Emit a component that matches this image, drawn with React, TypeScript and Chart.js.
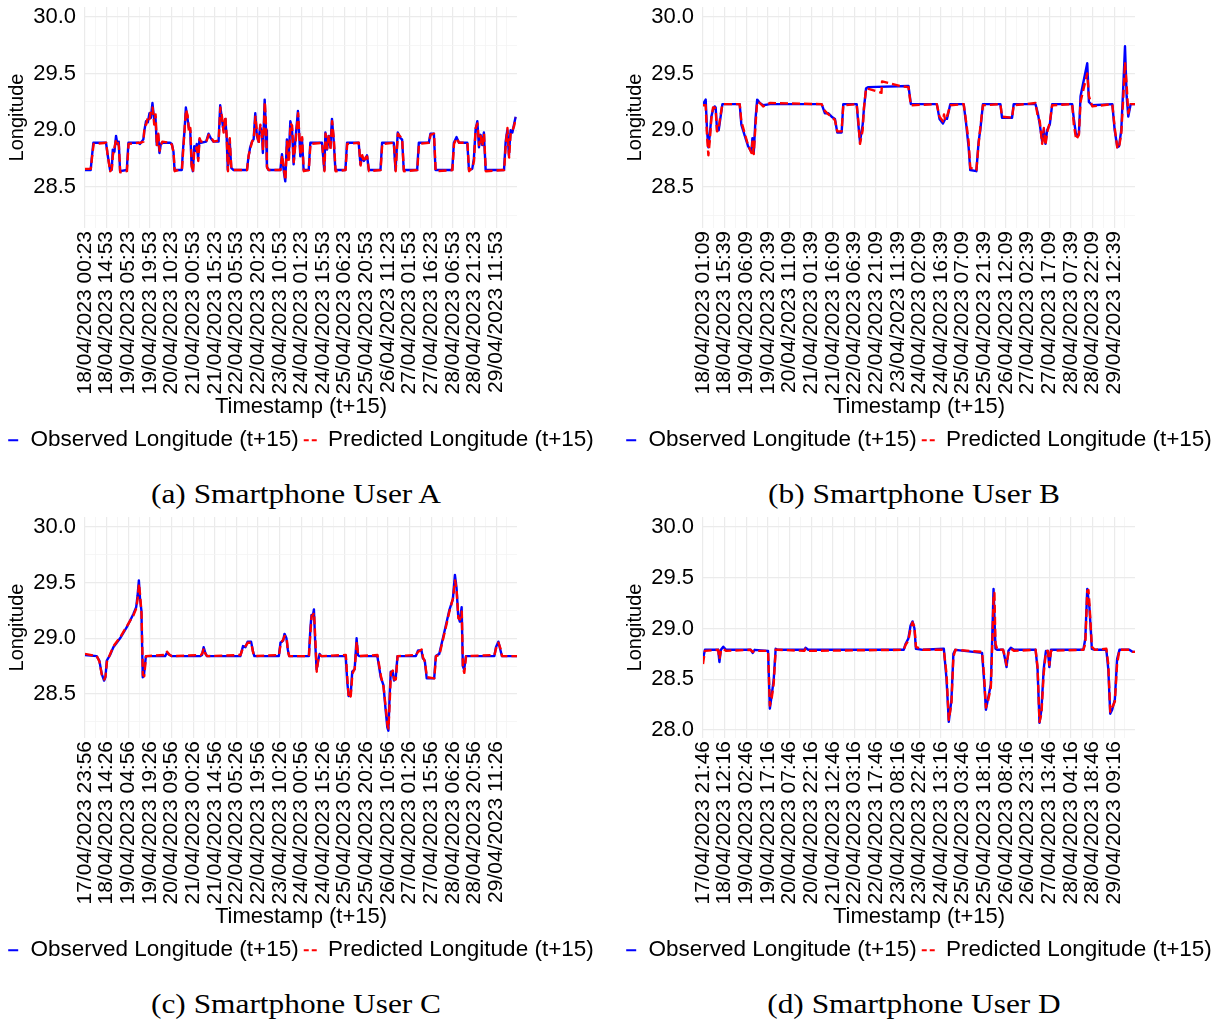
import React, { useEffect, useRef } from 'react';
import { Chart, registerables } from 'chart.js';

Chart.register(...registerables);
Chart.defaults.font.family = "'Liberation Sans', Arial, Helvetica, sans-serif";

type Pt = [number, number];

// x values: hours after the first labelled timestamp of each panel
const X_MAX = 289.5;
const TICK_STEP = 14.5;

const labelsA = ["18/04/2023 00:23","18/04/2023 14:53","19/04/2023 05:23","19/04/2023 19:53","20/04/2023 10:23","21/04/2023 00:53","21/04/2023 15:23","22/04/2023 05:53","22/04/2023 20:23","23/04/2023 10:53","24/04/2023 01:23","24/04/2023 15:53","25/04/2023 06:23","25/04/2023 20:53","26/04/2023 11:23","27/04/2023 01:53","27/04/2023 16:23","28/04/2023 06:53","28/04/2023 21:23","29/04/2023 11:53"];
const labelsB = ["18/04/2023 01:09","18/04/2023 15:39","19/04/2023 06:09","19/04/2023 20:39","20/04/2023 11:09","21/04/2023 01:39","21/04/2023 16:09","22/04/2023 06:39","22/04/2023 21:09","23/04/2023 11:39","24/04/2023 02:09","24/04/2023 16:39","25/04/2023 07:09","25/04/2023 21:39","26/04/2023 12:09","27/04/2023 02:39","27/04/2023 17:09","28/04/2023 07:39","28/04/2023 22:09","29/04/2023 12:39"];
const labelsC = ["17/04/2023 23:56","18/04/2023 14:26","19/04/2023 04:56","19/04/2023 19:26","20/04/2023 09:56","21/04/2023 00:26","21/04/2023 14:56","22/04/2023 05:26","22/04/2023 19:56","23/04/2023 10:26","24/04/2023 00:56","24/04/2023 15:26","25/04/2023 05:56","25/04/2023 20:26","26/04/2023 10:56","27/04/2023 01:26","27/04/2023 15:56","28/04/2023 06:26","28/04/2023 20:56","29/04/2023 11:26"];
const labelsD = ["17/04/2023 21:46","18/04/2023 12:16","19/04/2023 02:46","19/04/2023 17:16","20/04/2023 07:46","20/04/2023 22:16","21/04/2023 12:46","22/04/2023 03:16","22/04/2023 17:46","23/04/2023 08:16","23/04/2023 22:46","24/04/2023 13:16","25/04/2023 03:46","25/04/2023 18:16","26/04/2023 08:46","26/04/2023 23:16","27/04/2023 13:46","28/04/2023 04:16","28/04/2023 18:46","29/04/2023 09:16"];

const yMajor = [28.0, 28.5, 29.0, 29.5, 30.0];
const yMinor = [28.25, 28.75, 29.25, 29.75];

const observedA: Pt[] = [[0,28.65],[3.8,28.65],[4.5,28.75],[5.6,28.89],[14.1,28.89],[15.0,28.8],[16.8,28.65],[17.9,28.65],[18.6,28.83],[19.7,28.81],[20.8,28.95],[21.7,28.88],[22.6,28.9],[23.5,28.64],[28.0,28.65],[29.1,28.89],[35.8,28.89],[36.9,28.88],[39.1,28.92],[39.8,29.0],[40.9,29.08],[42.1,29.07],[43.2,29.15],[44.1,29.11],[45.2,29.24],[46.3,29.1],[47.2,29.12],[48.1,28.87],[49.0,28.96],[49.9,28.8],[50.8,28.88],[51.7,28.89],[57.0,28.89],[58.2,28.88],[59.3,28.81],[60.0,28.65],[64.9,28.65],[65.5,28.8],[66.7,29.0],[67.6,29.2],[68.7,29.1],[69.6,29.02],[70.5,29.0],[71.4,28.7],[72.3,28.64],[73.2,28.86],[74.0,28.82],[74.9,28.88],[75.8,28.75],[76.7,28.92],[77.6,28.89],[81.2,28.9],[82.8,28.97],[84.3,28.93],[86.1,28.9],[89.5,28.9],[90.6,29.22],[91.7,29.1],[92.8,29.0],[94.0,29.1],[94.9,28.95],[95.7,28.65],[96.9,28.92],[98.0,28.67],[99.6,28.65],[108.5,28.65],[109.6,28.77],[110.7,28.85],[111.9,28.9],[113.0,28.92],[114.1,29.15],[115.2,28.95],[116.3,28.9],[117.4,29.03],[118.6,28.98],[119.2,28.8],[120.4,29.27],[121.3,29.0],[121.9,28.68],[123.0,28.65],[130.9,28.65],[132.0,28.79],[133.1,28.65],[134.2,28.55],[135.3,28.92],[136.5,28.75],[137.6,29.08],[138.7,29.02],[139.8,28.7],[140.9,28.9],[142.7,29.17],[144.3,28.77],[145.4,28.93],[146.5,28.65],[149.9,28.65],[151.0,28.89],[158.8,28.89],[160.4,28.65],[161.1,28.98],[162.2,28.83],[163.3,28.95],[164.4,28.85],[165.5,29.1],[166.7,28.9],[167.8,28.65],[174.5,28.65],[175.6,28.89],[183.4,28.89],[184.6,28.7],[185.7,28.77],[186.8,28.73],[187.9,28.75],[189.0,28.78],[190.2,28.65],[198.0,28.65],[199.1,28.89],[206.9,28.89],[208.1,28.65],[209.6,28.98],[211.4,28.93],[212.5,28.92],[213.6,28.65],[222.6,28.65],[223.7,28.89],[230.4,28.89],[231.5,28.97],[233.8,28.97],[234.9,28.65],[246.1,28.65],[247.2,28.89],[249.0,28.94],[250.6,28.89],[256.2,28.89],[257.3,28.65],[259.5,28.66],[260.6,28.75],[261.7,29.0],[262.9,29.08],[264.0,28.85],[265.1,28.96],[266.2,28.87],[267.3,28.98],[268.5,28.65],[280.8,28.65],[281.9,28.9],[283.0,29.0],[284.1,28.78],[285.2,29.0],[286.4,28.98],[287.5,29.05],[288.6,29.12]];
const predictedA: Pt[] = [[0,28.66],[3.9,28.66],[4.7,28.76],[5.8,28.88],[14.2,28.89],[15.2,28.78],[16.9,28.64],[18.0,28.66],[18.7,28.78],[19.8,28.85],[20.9,28.92],[21.8,28.9],[22.7,28.86],[23.6,28.63],[28.1,28.64],[29.2,28.88],[35.9,28.89],[37.0,28.89],[39.2,28.9],[39.9,29.04],[41.0,29.05],[42.2,29.12],[43.3,29.1],[44.2,29.17],[45.3,29.2],[46.4,29.05],[47.3,29.14],[48.2,28.86],[49.1,28.97],[50.0,28.82],[50.9,28.87],[51.8,28.9],[57.1,28.89],[58.3,28.87],[59.4,28.8],[60.1,28.64],[65.0,28.66],[65.6,28.78],[66.8,29.02],[67.7,29.18],[68.8,29.13],[69.7,28.98],[70.6,29.02],[71.5,28.68],[72.4,28.63],[73.3,28.84],[74.1,28.84],[75.0,28.85],[75.9,28.73],[76.8,28.93],[77.7,28.9],[81.3,28.9],[82.9,28.96],[84.4,28.94],[86.2,28.9],[89.6,28.91],[90.7,29.2],[91.8,29.12],[92.9,28.98],[94.1,29.12],[95.0,28.93],[95.8,28.64],[97.0,28.93],[98.1,28.66],[99.7,28.65],[108.6,28.65],[109.7,28.78],[110.8,28.84],[112.0,28.9],[113.1,28.93],[114.2,29.12],[115.3,28.97],[116.4,28.88],[117.5,29.05],[118.7,28.96],[119.3,28.82],[120.5,29.25],[121.4,29.02],[122.0,28.67],[123.1,28.65],[131.0,28.65],[132.1,28.78],[133.2,28.67],[134.3,28.56],[135.4,28.9],[136.6,28.72],[137.7,29.06],[138.8,29.04],[139.9,28.72],[141.0,28.88],[142.8,29.15],[144.4,28.78],[145.5,28.94],[146.6,28.64],[150.0,28.65],[151.1,28.88],[158.9,28.89],[160.5,28.64],[161.2,28.97],[162.3,28.84],[163.4,28.96],[164.5,28.83],[165.6,29.08],[166.8,28.92],[167.9,28.64],[174.6,28.65],[175.7,28.88],[183.5,28.89],[184.7,28.69],[185.8,28.78],[186.9,28.72],[188.0,28.76],[189.1,28.77],[190.3,28.64],[198.1,28.65],[199.2,28.88],[207.0,28.89],[208.2,28.64],[209.7,28.97],[211.5,28.94],[212.6,28.91],[213.7,28.64],[222.7,28.65],[223.8,28.88],[230.5,28.89],[231.6,28.96],[233.9,28.97],[235.0,28.64],[246.2,28.65],[247.3,28.88],[249.1,28.93],[250.7,28.89],[256.3,28.89],[257.4,28.64],[259.6,28.67],[260.7,28.73],[261.8,29.02],[263.0,29.06],[264.1,28.87],[265.2,28.95],[266.3,28.86],[267.4,28.97],[268.6,28.64],[280.9,28.65],[282.0,28.88],[283.1,29.02],[284.2,28.76],[285.3,28.98],[286.5,29.0],[287.6,29.04],[288.7,29.11]];

const observedB: Pt[] = [[0,29.23],[1.8,29.27],[2.7,29.0],[3.6,28.85],[4.5,28.95],[5.6,29.12],[6.7,29.18],[7.8,29.21],[8.5,29.2],[9.4,29.0],[10.5,29.0],[11.6,29.1],[13.0,29.23],[24.6,29.23],[25.7,29.05],[28.0,28.95],[30.2,28.86],[32.5,28.81],[33.1,28.93],[34.0,28.8],[35.2,29.1],[36.3,29.27],[38.1,29.24],[40.3,29.22],[44.8,29.23],[79.5,29.23],[81.7,29.15],[84.0,29.15],[86.2,29.12],[88.4,29.1],[90.0,28.98],[92.9,28.98],[94.0,29.23],[103.0,29.23],[104.1,29.05],[105.2,28.9],[107.0,29.05],[107.9,29.2],[109.3,29.37],[110.8,29.38],[137.7,29.39],[139.3,29.23],[156.7,29.23],[158.5,29.1],[160.8,29.06],[162.3,29.1],[163.5,29.1],[165.7,29.23],[174.7,29.23],[176.4,29.05],[178.0,28.85],[179.1,28.65],[183.2,28.64],[184.7,28.9],[185.8,29.0],[187.6,29.23],[199.3,29.23],[200.4,29.11],[207.1,29.11],[208.2,29.23],[222.8,29.23],[224.4,29.15],[225.7,29.05],[227.3,28.9],[228.4,29.0],[229.5,28.88],[230.6,29.0],[232.4,29.05],[234.0,29.23],[247.4,29.23],[248.5,29.1],[250.1,28.95],[251.9,28.97],[253.0,29.3],[255.3,29.45],[257.5,29.59],[258.6,29.25],[260.9,29.22],[274.3,29.23],[275.9,29.0],[277.7,28.85],[278.8,28.86],[280.3,29.0],[281.7,29.4],[282.8,29.74],[283.9,29.3],[285.0,29.12],[286.6,29.23],[289.5,29.23]];
const predictedB: Pt[] = [[0,29.22],[1.8,29.22],[2.7,28.95],[3.6,28.78],[4.5,28.9],[5.6,29.1],[6.7,29.2],[7.8,29.2],[8.5,29.18],[9.4,28.99],[10.5,29.02],[11.6,29.12],[13.0,29.23],[24.6,29.23],[25.7,29.08],[28.0,28.97],[30.2,28.87],[32.5,28.8],[33.1,28.9],[34.0,28.79],[35.2,29.05],[36.3,29.25],[38.1,29.24],[40.3,29.21],[44.8,29.24],[79.5,29.23],[81.7,29.17],[84.0,29.14],[86.2,29.12],[88.4,29.09],[90.0,28.99],[92.9,28.99],[94.0,29.22],[103.0,29.23],[104.1,29.08],[105.2,28.88],[107.0,29.0],[107.9,29.2],[109.3,29.37],[119.6,29.33],[120.0,29.43],[132.1,29.39],[137.7,29.38],[139.3,29.22],[156.7,29.23],[158.5,29.12],[160.8,29.08],[161.5,29.14],[162.3,29.09],[163.5,29.12],[165.7,29.22],[174.7,29.23],[176.4,29.07],[178.0,28.9],[179.1,28.67],[183.2,28.65],[184.7,28.88],[185.8,29.02],[187.6,29.22],[199.3,29.23],[200.4,29.12],[207.1,29.11],[208.2,29.22],[222.8,29.24],[224.4,29.12],[225.7,29.08],[227.3,28.88],[228.4,29.02],[229.5,28.87],[230.6,28.98],[232.4,29.07],[234.0,29.22],[247.4,29.23],[248.5,29.05],[250.1,28.92],[251.9,28.96],[253.0,29.25],[255.3,29.38],[257.5,29.5],[258.6,29.3],[260.9,29.21],[274.3,29.23],[275.9,29.02],[277.7,28.84],[278.8,28.85],[280.3,28.97],[281.7,29.3],[282.8,29.6],[283.9,29.4],[285.0,29.15],[286.6,29.23],[289.5,29.23]];

const observedC: Pt[] = [[0,28.85],[7.8,28.84],[9.6,28.8],[11.2,28.68],[12.8,28.62],[13.7,28.65],[14.6,28.8],[16.8,28.85],[19.0,28.92],[23.5,29.0],[28.0,29.1],[32.5,29.22],[34.3,29.28],[35.2,29.38],[36.1,29.52],[36.9,29.35],[37.8,29.25],[38.7,28.65],[39.6,28.68],[40.8,28.84],[53.7,28.84],[54.9,28.87],[56.7,28.85],[58.2,28.84],[77.3,28.84],[78.4,28.85],[79.5,28.92],[80.6,28.87],[81.7,28.84],[104.1,28.84],[105.9,28.93],[107.5,28.92],[109.0,28.97],[111.3,28.97],[112.6,28.88],[113.5,28.84],[129.9,28.84],[131.0,28.96],[132.8,28.98],[133.7,29.04],[135.0,29.0],[135.9,28.9],[136.8,28.84],[150.0,28.84],[151.1,29.1],[151.8,29.21],[152.7,29.2],[153.4,29.26],[154.3,28.95],[155.2,28.72],[156.3,28.8],[157.2,28.86],[158.3,28.84],[174.7,28.84],[175.8,28.6],[176.7,28.48],[178.0,28.49],[179.1,28.7],[180.7,28.72],[182.0,29.0],[182.9,28.85],[183.8,28.84],[195.9,28.84],[198.2,28.65],[200.0,28.58],[201.5,28.35],[202.6,28.2],[203.3,28.17],[204.2,28.5],[204.9,28.7],[206.2,28.7],[207.1,28.62],[208.2,28.64],[209.4,28.84],[221.7,28.84],[223.2,28.89],[225.5,28.89],[226.4,28.82],[227.7,28.8],[229.0,28.64],[234.0,28.64],[235.1,28.84],[237.4,28.86],[240.7,29.05],[244.1,29.25],[246.5,29.35],[247.9,29.57],[249.0,29.45],[250.1,29.2],[251.2,29.15],[252.4,29.28],[253.2,28.75],[254.1,28.72],[255.3,28.84],[274.3,28.84],[275.4,28.92],[277.0,28.97],[278.3,28.9],[279.4,28.84],[289.5,28.84]];
const predictedC: Pt[] = [[0,28.86],[7.9,28.84],[9.7,28.79],[11.3,28.67],[12.9,28.63],[13.8,28.66],[14.7,28.79],[16.9,28.86],[19.1,28.93],[23.6,29.01],[28.1,29.11],[32.6,29.21],[34.4,29.27],[35.3,29.36],[36.2,29.49],[37.0,29.38],[37.9,29.22],[38.8,28.67],[39.7,28.66],[40.9,28.84],[53.8,28.85],[55.0,28.88],[56.8,28.85],[58.3,28.84],[77.4,28.85],[78.5,28.86],[79.6,28.91],[80.7,28.86],[81.8,28.84],[104.2,28.85],[106.0,28.92],[107.6,28.93],[109.1,28.96],[111.4,28.96],[112.7,28.87],[113.6,28.84],[130.0,28.85],[131.1,28.95],[132.9,28.99],[133.8,29.02],[135.1,29.01],[136.0,28.88],[136.9,28.84],[150.1,28.84],[151.2,29.08],[151.9,29.2],[152.8,29.21],[153.5,29.23],[154.4,28.98],[155.3,28.7],[156.4,28.82],[157.3,28.85],[158.4,28.84],[174.8,28.85],[175.9,28.62],[176.8,28.46],[178.1,28.48],[179.2,28.68],[180.8,28.73],[182.1,28.97],[183.0,28.86],[183.9,28.84],[196.0,28.85],[198.3,28.66],[200.1,28.56],[201.6,28.37],[202.7,28.22],[203.4,28.19],[204.3,28.46],[205.0,28.69],[206.3,28.71],[207.2,28.63],[208.3,28.63],[209.5,28.84],[221.8,28.85],[223.3,28.88],[225.6,28.9],[226.5,28.83],[227.8,28.79],[229.1,28.65],[234.1,28.64],[235.2,28.84],[237.5,28.85],[240.8,29.04],[244.2,29.24],[246.6,29.36],[248.0,29.52],[249.1,29.42],[250.2,29.18],[251.3,29.17],[252.5,29.24],[253.3,28.73],[254.2,28.69],[255.4,28.84],[274.4,28.85],[275.5,28.91],[277.1,28.96],[278.4,28.91],[279.5,28.84],[289.5,28.84]];

const observedD: Pt[] = [[0,28.7],[1.3,28.79],[10.2,28.79],[11.0,28.67],[12.0,28.79],[13.6,28.82],[15.4,28.79],[32.0,28.79],[33.3,28.76],[34.6,28.79],[43.6,28.78],[44.8,28.21],[46.1,28.35],[47.4,28.5],[48.7,28.8],[50.0,28.79],[67.9,28.79],[68.7,28.81],[70.5,28.79],[134.5,28.79],[135.8,28.85],[137.6,28.9],[139.1,29.03],[140.4,29.07],[141.7,29.0],[142.7,28.8],[147.3,28.79],[161.4,28.8],[163.2,28.5],[164.7,28.08],[166.5,28.3],[167.8,28.75],[169.1,28.79],[187.0,28.76],[188.3,28.5],[189.6,28.2],[190.9,28.3],[192.9,28.45],[194.0,29.0],[194.7,29.39],[196.0,28.8],[197.3,28.79],[201.1,28.79],[202.4,28.7],[203.4,28.62],[204.7,28.78],[206.3,28.81],[208.3,28.79],[222.9,28.79],[224.2,28.6],[225.5,28.07],[226.8,28.2],[228.3,28.6],[229.8,28.78],[231.1,28.78],[232.1,28.62],[233.2,28.79],[254.9,28.79],[256.2,28.9],[257.5,29.39],[259.0,29.2],[260.6,28.8],[262.6,28.79],[270.3,28.79],[271.6,28.6],[272.9,28.16],[274.2,28.2],[276.0,28.3],[277.5,28.7],[279.1,28.79],[285.7,28.79],[287.8,28.77],[289.5,28.77]];
const predictedD: Pt[] = [[0,28.65],[1.3,28.78],[10.2,28.79],[11.0,28.7],[12.0,28.78],[13.6,28.8],[15.4,28.78],[32.0,28.79],[33.3,28.77],[34.6,28.78],[43.6,28.78],[44.8,28.24],[46.1,28.32],[47.4,28.46],[48.7,28.79],[50.0,28.79],[67.9,28.78],[68.7,28.8],[70.5,28.78],[134.5,28.79],[135.8,28.84],[137.6,28.88],[139.1,29.0],[140.4,29.06],[141.7,29.02],[142.7,28.82],[147.3,28.79],[161.4,28.79],[163.2,28.55],[164.7,28.1],[166.5,28.26],[167.8,28.72],[169.1,28.79],[187.0,28.77],[188.3,28.55],[189.6,28.22],[190.9,28.28],[192.9,28.42],[194.0,28.9],[194.7,29.3],[195.3,29.35],[196.0,28.85],[197.3,28.79],[201.1,28.79],[202.4,28.72],[203.4,28.64],[204.7,28.76],[206.3,28.8],[208.3,28.78],[222.9,28.79],[224.2,28.62],[225.5,28.08],[226.8,28.16],[228.3,28.55],[229.8,28.77],[231.1,28.78],[232.1,28.64],[233.2,28.78],[254.9,28.79],[256.2,28.85],[257.5,29.37],[258.3,29.38],[259.0,29.24],[260.6,28.82],[262.6,28.79],[270.3,28.8],[271.6,28.65],[272.9,28.18],[274.2,28.22],[276.0,28.28],[277.5,28.65],[279.1,28.79],[285.7,28.79],[287.8,28.77],[289.5,28.77]];

const near = (a: number, b: number) => Math.abs(a - b) < 1e-6;
const isMajorX = (v: number) => near(v / TICK_STEP, Math.round(v / TICK_STEP));
const isMajorY = (v: number) => yMajor.some((m) => near(m, v));

type PanelProps = {
  left: number; top: number; obs: Pt[]; pred: Pt[]; labels: string[];
  yMin: number; yMax: number; caption: string;
};

const CW = 630;
const CH = 470;

function Panel({ left, top, obs, pred, labels, yMin, yMax, caption }: PanelProps) {
  const ref = useRef<HTMLCanvasElement | null>(null);
  useEffect(() => {
    if (!ref.current) return;
    const xTicks: number[] = [];
    labels.forEach((_, i) => { xTicks.push(i * TICK_STEP); xTicks.push((i + 0.5) * TICK_STEP); });
    const yTicks = [...yMajor, ...yMinor].filter((v) => v >= yMin && v <= yMax).sort((a, b) => a - b);
    const chart = new Chart(ref.current, {
      type: 'line',
      data: {
        datasets: [
          {
            label: 'Observed Longitude (t+15)',
            data: obs.map(([x, y]) => ({ x, y })),
            borderColor: '#0000FF', borderWidth: 2.4, pointRadius: 0, tension: 0,
            fill: false, order: 1, xAxisID: 'x', yAxisID: 'y', borderJoinStyle: 'round',
          },
          {
            label: 'Predicted Longitude (t+15)',
            data: pred.map(([x, y]) => ({ x, y })),
            borderColor: '#FF0000', borderWidth: 2.4, borderDash: [8, 4], pointRadius: 0, tension: 0,
            fill: false, order: 0, xAxisID: 'x', yAxisID: 'y', borderJoinStyle: 'round',
          },
        ],
      },
      options: {
        responsive: false,
        animation: false,
        devicePixelRatio: 1,
        events: [],
        layout: { padding: { left: 0, right: 0, top: 7, bottom: 8.5 } },
        scales: {
          x: {
            type: 'linear', min: 0, max: X_MAX,
            afterBuildTicks: (s: any) => { s.ticks = xTicks.map((v) => ({ value: v })); },
            afterFit: (s: any) => { s.height = 196; s.paddingLeft = 0; s.paddingRight = 0; },
            grid: {
              drawTicks: false,
              color: (c: any) => (c.tick && isMajorX(c.tick.value) ? '#EBEBEB' : '#F4F4F4'),
              lineWidth: (c: any) => (c.tick && isMajorX(c.tick.value) ? 1.2 : 0.8),
            },
            border: { display: false },
            ticks: {
              autoSkip: false, maxRotation: 90, minRotation: 90, padding: 3, color: '#000',
              font: { size: 21 },
              callback: (v: any) => {
                const k = Number(v) / TICK_STEP; const i = Math.round(k);
                return near(k, i) ? labels[i] : '';
              },
            },
            title: {
              display: true, text: 'Timestamp (t+15)', color: '#000',
              font: { size: 22, lineHeight: 1 }, padding: { top: 0, bottom: 6 },
            },
          },
          y: {
            type: 'linear', min: yMin, max: yMax, position: 'left',
            afterBuildTicks: (s: any) => { s.ticks = yTicks.map((v) => ({ value: v })); },
            afterFit: (s: any) => { s.width = 100; s.paddingTop = 0; s.paddingBottom = 0; },
            grid: {
              drawTicks: false,
              color: (c: any) => (c.tick && isMajorY(c.tick.value) ? '#EBEBEB' : '#F4F4F4'),
              lineWidth: (c: any) => (c.tick && isMajorY(c.tick.value) ? 1.2 : 0.8),
            },
            border: { display: false },
            ticks: {
              padding: 9, color: '#000', font: { size: 22 },
              callback: (v: any) => (isMajorY(Number(v)) ? Number(v).toFixed(1) : ''),
            },
            title: {
              display: true, text: 'Longitude', color: '#000',
              font: { size: 20, lineHeight: 1 }, padding: { top: 22, bottom: 0 },
            },
          },
          r: {
            type: 'linear', position: 'right', display: true,
            grid: { display: false }, ticks: { display: false }, border: { display: false },
            afterFit: (s: any) => { s.width = 98; s.paddingTop = 0; s.paddingBottom = 0; },
          },
        },
        plugins: {
          tooltip: { enabled: false },
          legend: {
            position: 'bottom',
            labels: {
              usePointStyle: true, pointStyleWidth: 13, padding: 5, color: '#000',
              font: { size: 22.5 },
              generateLabels: (ch: any) => ch.data.datasets.map((ds: any, i: number) => ({
                text: ds.label, fillStyle: ds.borderColor, strokeStyle: ds.borderColor,
                lineWidth: 2, lineDash: i === 0 ? [0, 2, 10, 30] : [5, 3], pointStyle: 'line',
                hidden: false, datasetIndex: i, fontColor: '#000',
              })),
            },
          },
        },
      } as any,
    });
    return () => chart.destroy();
  }, []);
  return (
    <>
      <canvas ref={ref} width={CW} height={CH}
        style={{ position: 'absolute', left: left - 15, top, width: CW, height: CH }} />
      <div style={{
        position: 'absolute', left: left + 296 - 300, top: top + 476, width: 600,
        textAlign: 'center', fontFamily: "'Liberation Serif', 'Times New Roman', serif",
        fontSize: 28, lineHeight: '36px', color: '#000', transform: 'scaleX(1.12)',
      }}>{caption}</div>
    </>
  );
}

export default function App() {
  return (
    <div style={{ position: 'absolute', left: 0, top: 0, width: 1221, height: 1021, overflow: 'hidden', background: '#fff' }}>
      <Panel left={0} top={0} obs={observedA} pred={predictedA} labels={labelsA} yMin={28.14} yMax={30.085} caption="(a) Smartphone User A" />
      <Panel left={618} top={0} obs={observedB} pred={predictedB} labels={labelsB} yMin={28.14} yMax={30.085} caption="(b) Smartphone User B" />
      <Panel left={0} top={510} obs={observedC} pred={predictedC} labels={labelsC} yMin={28.104} yMax={30.09} caption="(c) Smartphone User C" />
      <Panel left={618} top={510} obs={observedD} pred={predictedD} labels={labelsD} yMin={27.921} yMax={30.099} caption="(d) Smartphone User D" />
    </div>
  );
}
